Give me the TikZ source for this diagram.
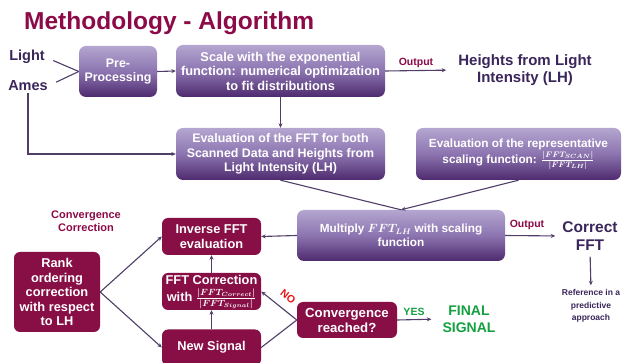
\documentclass[tikz,border=0pt]{standalone}
\usepackage{fontspec}
\setmainfont{Liberation Sans}
\usetikzlibrary{arrows.meta}

\definecolor{titlec}{RGB}{140,10,72}
\definecolor{darkbox}{RGB}{135,15,70}
\definecolor{boxtop}{RGB}{180,166,208}
\definecolor{boxmid}{RGB}{140,116,176}
\definecolor{boxbot}{RGB}{78,42,110}
\definecolor{inkc}{RGB}{58,38,90}
\definecolor{linec}{RGB}{80,62,105}
\definecolor{greenc}{RGB}{20,160,65}
\definecolor{redc}{RGB}{235,20,20}

\newcommand{\bfsz}[2]{\bfseries\boldmath\fontsize{#1}{#2}\selectfont}

\tikzset{
  purplebox/.style={rounded corners=7pt, top color=boxtop, bottom color=boxbot,
    middle color=boxmid, text=white, align=center, inner sep=2pt,
    font=\bfsz{12}{14.5}},
  redbox/.style={rounded corners=6pt, fill=darkbox, text=white, align=center,
    inner sep=2pt, font=\bfsz{12.8}{14.5}},
  plainlbl/.style={text=inkc, align=center, inner sep=0pt, font=\bfsz{15}{17}},
  smalllbl/.style={inner sep=0pt, font=\bfsz{10.5}{12}},
  link/.style={draw=linec, line width=1.1pt},
  conn/.style={link, -{Stealth[length=4.5pt,width=4pt]}}
}

\begin{document}
\begin{tikzpicture}[x=1pt,y=-1pt]
\useasboundingbox (0,0) rectangle (622,363);
\fill[white] (0,0) rectangle (622,363);

% title
\node[anchor=base west, inner sep=0pt, text=titlec, font=\bfsz{24.5}{30}]
  (title) at (24,30) {Methodology - Algorithm};

% inputs
\node[plainlbl, font=\bfsz{14.5}{17}] (light) at (27,57) {Light};
\node[plainlbl, font=\bfsz{14.5}{17}] (ames) at (28,86) {Ames};

% upper chain
\node[purplebox, font=\bfsz{12.4}{14.5}, minimum width=78pt, minimum height=51pt]
  (pre) at (118,71.5) {Pre-\\Processing};
\node[purplebox, font=\bfsz{12.8}{14.5}, minimum width=209pt, minimum height=52pt]
  (scale) at (280.5,71)
  {Scale with the exponential\\function: numerical optimization\\to fit distributions};
\node[plainlbl] (heights) at (525,70) {Heights from Light\\Intensity (LH)};
\node[smalllbl, text=titlec] (out1) at (416,63) {Output};

\node[purplebox, font=\bfsz{12.4}{14.5}, minimum width=209pt, minimum height=52pt]
  (evalfft) at (280.5,154)
  {Evaluation of the FFT for both\\Scanned Data and Heights from\\Light Intensity (LH)};
\node[purplebox, font=\bfsz{11.8}{15}, minimum width=205pt, minimum height=52pt]
  (evalrep) at (518.5,154)
  {Evaluation of the representative\\[1pt]scaling function: $\frac{|FFT_{SCAN}|}{|FFT_{LH}|}$};

\node[purplebox, font=\bfsz{11.8}{14.5}, minimum width=208pt, minimum height=51pt]
  (multiply) at (401,235.5) {Multiply $FFT_{LH}$ with scaling\\function};
\node[smalllbl, text=titlec] (out2) at (527,225) {Output};
\node[plainlbl, font=\bfsz{15.5}{18}] (correct) at (590,236) {Correct\\FFT};
\node[text=inkc, align=center, inner sep=0pt, font=\bfsz{8.5}{12.5}]
  (reference) at (591,306) {Reference in a\\predictive\\approach};

% convergence correction loop
\node[text=titlec, align=center, inner sep=0pt, font=\bfsz{11}{13}]
  (convlbl) at (86,221) {Convergence\\Correction};
\node[redbox, minimum width=86pt, minimum height=80pt] (rank) at (57,292)
  {Rank\\ordering\\correction\\with respect\\to LH};
\node[redbox, minimum width=99pt, minimum height=37pt] (inverse) at (211.5,236.5)
  {Inverse FFT\\evaluation};
\node[redbox, inner sep=1pt, minimum width=99pt, minimum height=37pt] (fftcorr) at (211.5,291.5)
  {FFT Correction\\[3pt]with $\frac{|FFT_{Correct}|}{|FFT_{Signal}|}$};
\node[redbox, minimum width=99pt, minimum height=36pt] (newsig) at (211.5,347.5)
  {New Signal};
\node[redbox, font=\bfsz{13.2}{15}, minimum width=100pt, minimum height=36pt]
  (conv) at (347,320) {Convergence\\reached?};
\node[text=greenc, align=center, inner sep=0pt, font=\bfsz{14}{17}]
  (final) at (469,319) {FINAL\\SIGNAL};
\node[smalllbl, text=greenc] (yes) at (414,312) {YES};
\node[smalllbl, text=redc, rotate=-38] (no) at (288,297) {NO};

% connectors
\draw[link, shorten <=9pt] (light.east) -- (pre.west);
\draw[link, shorten <=9pt] (ames.east) -- (pre.west);
\draw[conn] (pre.east) -- (scale.west);
\draw[conn, shorten >=12pt] (scale.east) -- (heights.west);
\draw[conn, shorten <=2pt] (ames.south) |- (evalfft.west);
\draw[conn] (scale.south) -- (evalfft.north);
\draw[link] (evalfft.south) -- (multiply.north);
\draw[conn] (evalrep.south) -- (multiply.north);
\draw[conn, shorten >=7pt] (multiply.east) -- (correct.west);
\draw[conn, shorten <=6pt, shorten >=4pt] (correct.south) -- (reference.north);
\draw[conn] (multiply.west) -- (inverse.east);
\draw[conn] (rank.east) -- (inverse.west);
\draw[conn] (rank.east) -- (newsig.west);
\draw[conn] (newsig.north) -- (fftcorr.south);
\draw[conn] (fftcorr.north) -- (inverse.south);
\draw[link] (newsig.east) -- (conv.west);
\draw[conn] (conv.west) -- (fftcorr.east);
\draw[conn, shorten >=11pt] (conv.east) -- (final.west);
\end{tikzpicture}
\end{document}
